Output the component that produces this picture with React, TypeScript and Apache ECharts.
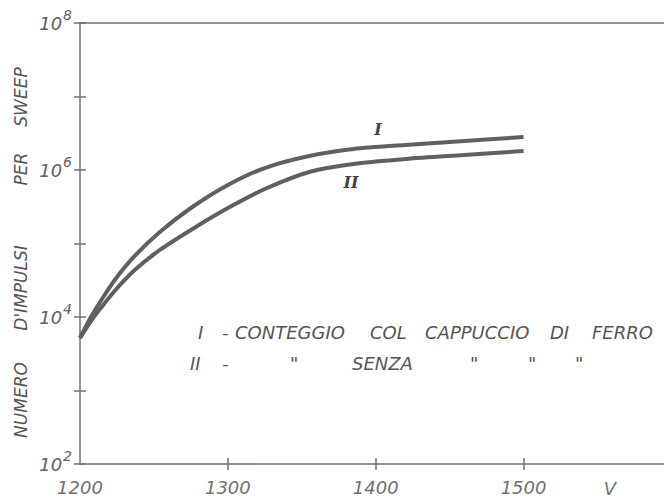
import React, { useEffect, useRef } from "react";
import * as echarts from "echarts";

// X values (V) and counts per sweep for the two curves
const voltages = [1200, 1207, 1214, 1224, 1237, 1254, 1275, 1300, 1325, 1355, 1385, 1420, 1460, 1500];
const curveI = [5180, 9680, 16500, 32900, 67600, 143000, 304000, 625000, 1064000, 1550000, 1930000, 2190000, 2480000, 2810000];
const curveII = [5180, 8550, 13200, 23300, 43500, 81600, 153000, 304000, 551000, 940000, 1210000, 1410000, 1600000, 1810000];

const xTicks = [1200, 1300, 1400, 1500];
const xTickMarks = [1300, 1400, 1500];
const yLabelExponents = [2, 4, 6, 8];

const yTitleWords = ["NUMERO", "D'IMPULSI", "PER", "SWEEP"];
const legendRow1 = ["I", "-", "CONTEGGIO", "COL", "CAPPUCCIO", "DI", "FERRO"];
const legendRow2 = ["II", "-", "\"", "SENZA", "\"", "\"", "\""];
const curveNames = ["I", "II"];
const xUnit = "V";

const FONT = "DejaVu Sans";
const TXT = "#555";

export default function App() {
  const ref = useRef<HTMLDivElement>(null);
  useEffect(() => {
    if (!ref.current) return;
    const chart = echarts.init(ref.current, undefined, { renderer: "svg" });
    const axisColor = "#707070";
    const word = (text: string, x: number, y: number, size = 18) => ({
      type: "text",
      x,
      y,
      style: {
        text,
        fill: TXT,
        font: `italic ${size}px "${FONT}"`,
        textAlign: "left",
        textVerticalAlign: "middle",
      },
    });
    const row1X = [198, 222, 235, 370, 425, 550, 592];
    const row2X = [190, 222, 290, 352, 470, 528, 575];
    const titleY = [400, 288, 169, 97];
    const graphics: any[] = [];
    legendRow1.forEach((w, i) => graphics.push(word(w, row1X[i], 332)));
    legendRow2.forEach((w, i) => graphics.push(word(w, row2X[i], 363)));
    yTitleWords.forEach((w, i) =>
      graphics.push({
        type: "text",
        x: 21,
        y: titleY[i],
        rotation: Math.PI / 2,
        style: {
          text: w,
          fill: TXT,
          font: `italic 17px "${FONT}"`,
          textAlign: "center",
          textVerticalAlign: "middle",
        },
      })
    );
    graphics.push({
      type: "text",
      x: 378,
      y: 129,
      style: { text: curveNames[0], fill: "#444", font: `italic bold 16px "DejaVu Serif"`, textAlign: "center", textVerticalAlign: "middle" },
    });
    graphics.push({
      type: "text",
      x: 351,
      y: 182,
      style: { text: curveNames[1], fill: "#444", font: `italic bold 16px "DejaVu Serif"`, textAlign: "center", textVerticalAlign: "middle" },
    });
    graphics.push({
      type: "text",
      x: 610,
      y: 488,
      style: { text: xUnit, fill: "#707070", font: `italic 18px "${FONT}"`, textAlign: "center", textVerticalAlign: "middle" },
    });

    const xBase = {
      type: "value",
      min: 1200,
      max: 1595,
      interval: 100,
      splitLine: { show: false },
    };
    const yBase = {
      type: "log",
      logBase: 10,
      min: 100,
      max: 1e8,
      splitLine: { show: false },
      minorTick: { show: false },
    };
    chart.setOption({
      animation: false,
      backgroundColor: "#ffffff",
      grid: { left: 80, right: 0, top: 23, bottom: 38, containLabel: false },
      xAxis: [
        {
          ...xBase,
          position: "bottom",
          axisLine: { show: true, lineStyle: { color: axisColor, width: 1.5 } },
          axisTick: { show: true, inside: false, length: 6, customValues: xTickMarks, lineStyle: { color: axisColor, width: 1.5 } },
          axisLabel: {
            show: true,
            margin: 14,
            color: "#707070",
            fontSize: 18,
            fontStyle: "italic",
            fontFamily: FONT,
            customValues: xTicks,
            formatter: (v: number) => String(v),
          },
        },
        {
          ...xBase,
          position: "bottom",
          axisLine: { show: false },
          axisTick: { show: true, inside: true, length: 6, customValues: xTickMarks, lineStyle: { color: axisColor, width: 1.5 } },
          axisLabel: { show: false },
        },
        {
          ...xBase,
          position: "top",
          axisLine: { show: true, lineStyle: { color: axisColor, width: 1.5 } },
          axisTick: { show: false },
          axisLabel: { show: false },
        },
      ],
      yAxis: [
        {
          ...yBase,
          position: "left",
          axisLine: { show: true, lineStyle: { color: axisColor, width: 1.5 } },
          axisTick: { show: true, inside: false, length: 6, lineStyle: { color: axisColor, width: 1.5 } },
          axisLabel: {
            show: true,
            margin: 8,
            formatter: (v: number) => {
              const e = Math.round(Math.log10(v));
              return yLabelExponents.includes(e) ? `{b|10}{e|${e}}` : "";
            },
            rich: {
              b: { fontSize: 18, fontStyle: "italic", fontFamily: FONT, color: "#606060", lineHeight: 22 },
              e: { fontSize: 14, fontStyle: "italic", fontFamily: FONT, color: "#606060", lineHeight: 14, padding: [0, 0, 16, 1] },
            },
          },
        },
        {
          ...yBase,
          position: "left",
          axisLine: { show: false },
          axisTick: { show: true, inside: true, length: 6, lineStyle: { color: axisColor, width: 1.5 } },
          axisLabel: { show: false },
        },
      ],
      series: [
        {
          type: "line",
          name: curveNames[0],
          xAxisIndex: 0,
          yAxisIndex: 0,
          data: voltages.map((v, i) => [v, curveI[i]]),
          smooth: 0.3,
          showSymbol: false,
          symbol: "none",
          lineStyle: { color: "#606060", width: 4 },
        },
        {
          type: "line",
          name: curveNames[1],
          xAxisIndex: 0,
          yAxisIndex: 0,
          data: voltages.map((v, i) => [v, curveII[i]]),
          smooth: 0.3,
          showSymbol: false,
          symbol: "none",
          lineStyle: { color: "#606060", width: 4 },
        },
      ],
      graphic: graphics,
    });
    return () => chart.dispose();
  }, []);
  return (
    <div
      ref={ref}
      style={{ position: "fixed", left: 0, top: 0, width: 664, height: 502, background: "#fff" }}
    />
  );
}
